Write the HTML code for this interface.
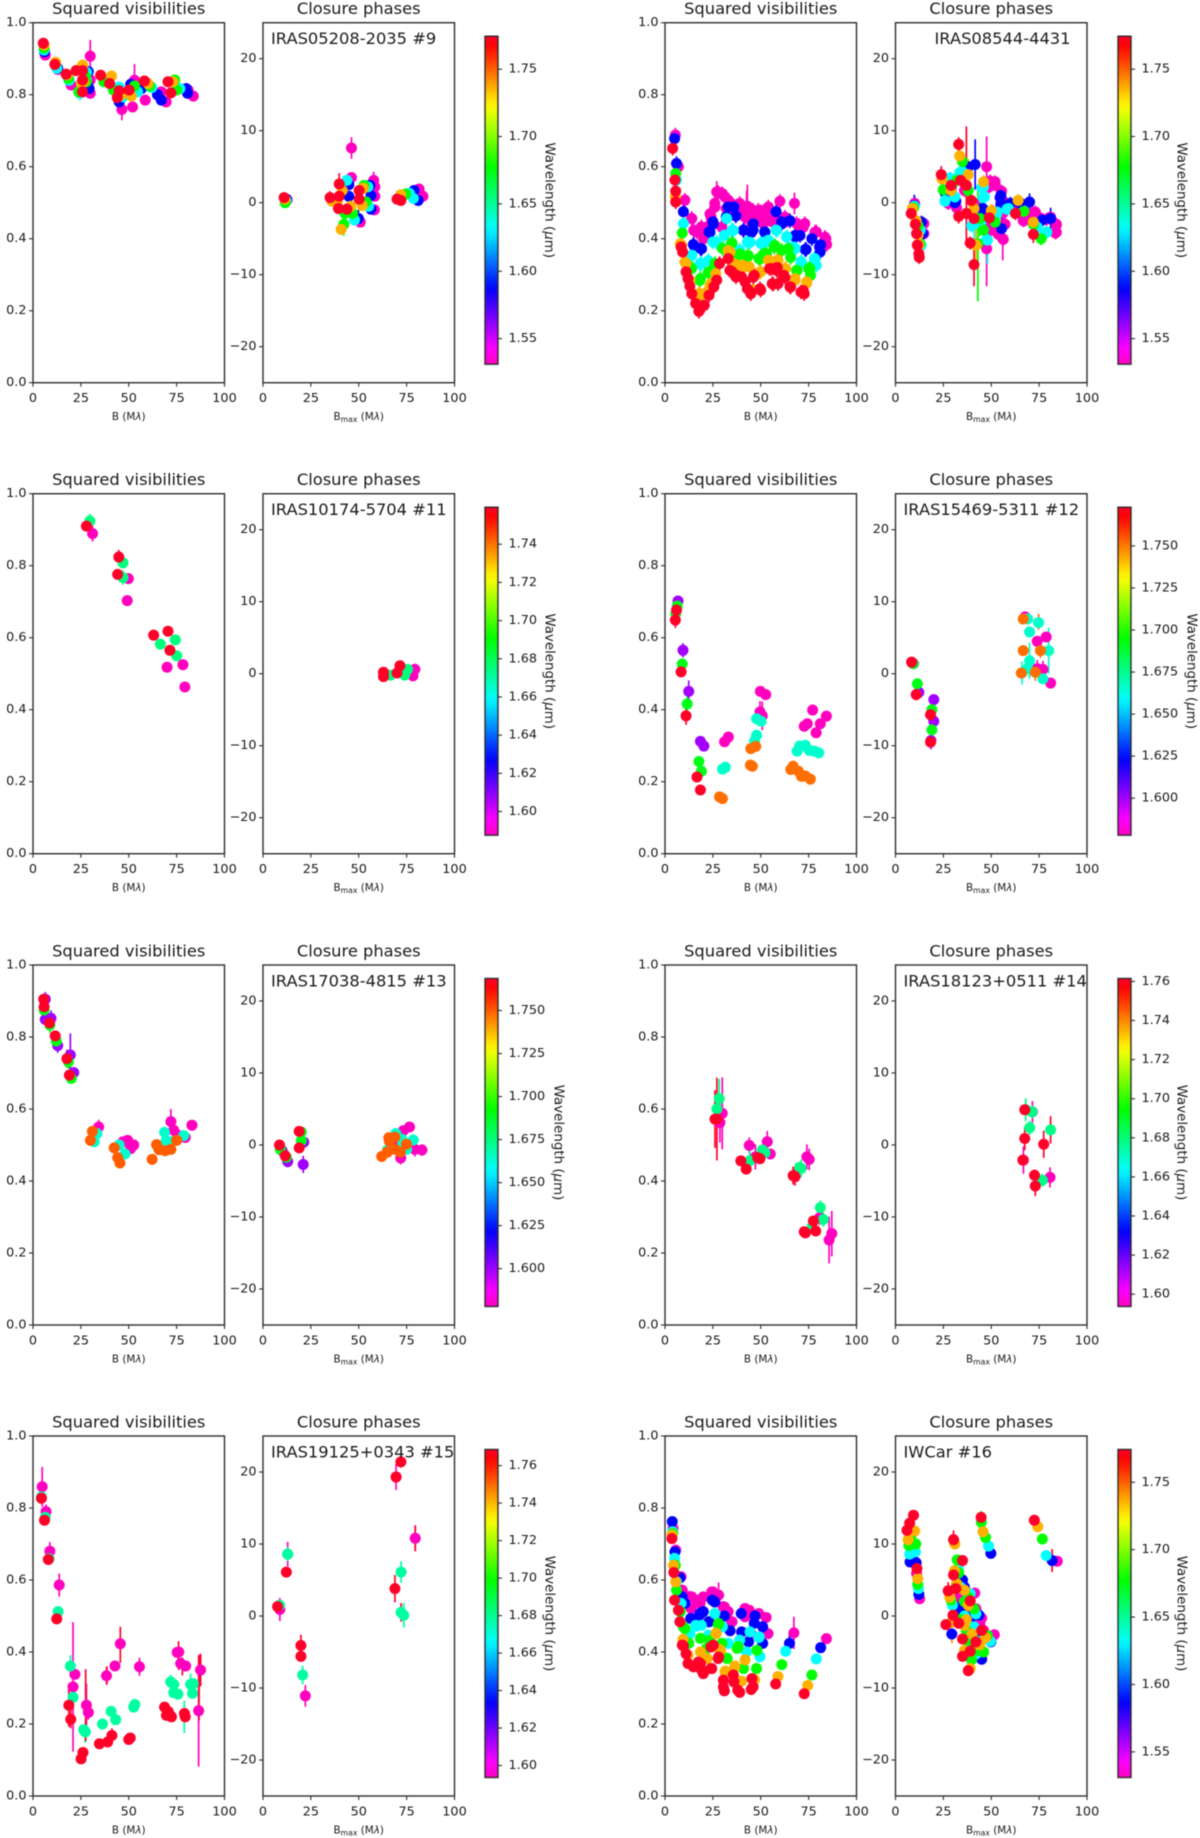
<!DOCTYPE html>
<html lang="en">
<head>
<meta charset="utf-8">
<title>Squared visibilities and closure phases</title>
<style>
html,body{margin:0;padding:0;background:#fff;}
#fig{display:block;width:1200px;height:1838px;filter:blur(.55px);}
text{font-family:"DejaVu Sans","Liberation Sans",sans-serif;fill:#1a1a1a;}
</style>
</head>
<body>
<svg id="fig" xmlns="http://www.w3.org/2000/svg" width="1200" height="1838" viewBox="0 0 1200 1838"></svg>
<script>
/* ---------- tick labels ---------- */
const xTicks=[0,25,50,75,100];
const v2Ticks=[0,0.2,0.4,0.6,0.8,1];
const cpTicks=[-20,-10,0,10,20];
const cbT5=[1.55,1.60,1.65,1.70,1.75];
const cbT2=[1.60,1.62,1.64,1.66,1.68,1.70,1.72,1.74];
const cbT25=[1.600,1.625,1.650,1.675,1.700,1.725,1.750];
const cbT2b=[1.60,1.62,1.64,1.66,1.68,1.70,1.72,1.74,1.76];

/* ---------- channel wavelengths (um) ---------- */
const wlDense=[1.531,1.587,1.632,1.677,1.736,1.7745];
const wl11=[1.5876,1.675,1.7594];
const wl12=[1.60,1.692,1.773,1.578,1.666,1.7516];
const wl13=[1.60,1.69,1.7686,1.578,1.664,1.75];
const wl14=[1.5937,1.678,1.7615];
const wl15=[1.5936,1.678,1.7686];

/* Points are [B, value, err]; a fourth element of 0 marks a point whose marker is hidden and only its error bar shows. */

/* ---------- IRAS05208-2035 #9 ---------- */
const v9m=[[6.4,.91],[12.9,.87],[19.9,.827],[29.9,.907,.045],[29.9,.841],[29.9,.804],[46.4,.759,.03],[52,.766],[53,.84,.045],[58.6,.785],[69.5,.78],[67,.808],[81,.813],[83.7,.796]];
const v9b=[[6,.919],[12.9,.873],[18.9,.84],[28.9,.864],[28.5,.827],[29.3,.817],[45,.78],[51,.829],[52,.82],[56.6,.817],[65,.8],[67,.785],[80,.817],[80.7,.804]];
const v9c=[[5.8,.924],[12.4,.873],[18.9,.84],[28,.862],[24.5,.804,.02],[27.9,.841],[45,.821],[47,.794],[54.6,.808],[62,.82],[76.7,.817]];
const v9g=[[5.8,.93],[11.8,.887],[18.5,.845],[23.9,.808],[27.3,.85],[27.9,.836],[37,.836],[42,.813],[53,.824],[61,.824],[74,.841],[75,.813]];
const v9o=[[5.8,.938],[11.8,.89],[17.9,.855],[25.9,.882],[26.5,.836],[25.2,.832],[41,.852],[46,.799],[51.4,.796],[60,.831],[73,.836]];
const v9r=[[5.4,.943],[11.4,.884],[17.3,.857],[22.5,.867],[25.9,.867],[25.9,.841],[25.9,.808],[35.3,.854],[40,.831],[44,.792],[45,.811],[50.2,.813],[58.2,.838],[70.5,.836],[72,.805]];
const c9m=[[12.6,.4],[46.2,7.6,1.5],[46.2,3.5],[50.8,-2.7],[57.8,3.1,1.2],[58.4,2.2],[58.4,.9],[58.2,-1],[81.5,1.9],[83.5,.9]];
const c9b=[[12.2,.5],[44.8,2.5],[44.8,.9],[49.8,-2.2,1.2],[55.8,2.4],[56.4,1],[56.4,-.9],[78.9,1.7],[81,.3]];
const c9c=[[12,.3],[43.8,3.1],[47.8,-2.4],[54.8,2.2],[55.2,-.5],[76.5,1.3],[78.5,.6]];
const c9g=[[11.6,0],[42.2,-3,1.6],[42.8,-1.5],[52.8,2.4],[53.8,.1],[46.8,-1.5],[74.5,1.2]];
const c9o=[[11.4,.5],[40.8,-3.7],[41.4,1.7],[38.8,.1],[45.8,-.5],[51.8,-.4],[52.4,2],[36,.2],[71.9,1.1]];
const c9r=[[11,.7],[35,.7,.9],[39.8,2.6,1.5],[39.8,.9],[39.4,-.8],[43.8,-.9],[50.2,1.7],[50.2,.5],[70,.5],[72,.3]];

/* ---------- IRAS08544-4431 ---------- */
const v8m=[[5.4,.688],[7,.6],[10.4,.507],[14,.456],[15,.423],[20,.4],[24,.46],[27,.53,.03],[30,.525],[33,.507],[39,.498],[35,.488],[42,.47],[43,.49,.06],[46,.479],[50,.475],[54,.488],[60,.504],[52,.46],[67.6,.498,.03],[64,.451],[73,.442],[79,.419],[84,.4],[83,.382],[70,.437],[32,.484],[37,.47],[43,.46],[48,.451],[56,.447],[26,.498],[22,.433],[19,.433],[23.5,.469],[26.1,.488],[27.8,.529],[31.3,.516],[34.8,.497],[39.1,.488],[41.8,.46],[45.2,.469],[48.7,.479],[53,.483],[57.4,.469],[62.6,.46],[68.7,.442],[72.2,.432],[78.3,.418],[83.5,.404],[84.4,.384],[13.9,.456],[19.1,.428],[16.5,.419],[29.6,.432],[36.5,.469],[51.3,.442],[46.1,.442],[42.6,.488,.045]];
const v8b=[[5,.678],[6,.609],[9.6,.475],[15,.382],[18.5,.373],[23,.419],[25,.447],[32,.461],[36,.488],[41,.424],[46,.424],[52,.419],[58,.475],[61,.447],[68,.405],[73.7,.37],[76.7,.4],[80.7,.377],[81,.363],[14.8,.384],[19.1,.372],[23.5,.418],[25.2,.441],[33,.488],[37,.463],[40.9,.423],[46.1,.441],[45.2,.418],[52.2,.418],[60.9,.441],[65.3,.45],[67.9,.409],[70.5,.409],[73.2,.37],[81.3,.383]];
const v8c=[[6,.563],[9.6,.442],[14,.354],[19,.331],[25,.391],[31,.41],[35,.424],[39,.368],[43,.391],[50,.387],[54,.396],[58,.424],[63.6,.405],[68,.373],[71,.336],[78,.345],[79,.326],[13.9,.353],[18.2,.33],[22.6,.339],[26.9,.39],[32.2,.456],[35.7,.423],[44.4,.39],[51.3,.39],[58.3,.423],[63.5,.405],[67,.377],[71.3,.335],[78.3,.344]];
const v8g=[[5.6,.581],[9,.416],[13,.322],[18.5,.289],[23,.308],[26,.331],[30,.373],[35,.388],[38,.354],[43,.349],[49,.345],[52,.359],[57,.377],[61,.368],[65.6,.348],[69,.312],[75,.317],[76,.298],[13.9,.317],[18.2,.284],[22.6,.307],[26.1,.33],[34.8,.388],[39.1,.358],[43.5,.353],[49.6,.344],[53,.358],[57.4,.381],[64.4,.372],[68.7,.312],[75.7,.317]];
const v8o=[[5.4,.516],[8,.386],[11,.331],[13,.285],[17.7,.247],[18.5,.224],[22,.252],[24,.275],[26.5,.303],[34,.363],[36,.331],[40.5,.326],[44,.322],[50,.308],[54,.34],[59,.34],[63,.317],[68,.285],[74,.277],[46,.257],[8.7,.381],[10.4,.335],[12.6,.284],[18.2,.247],[23.5,.27],[33,.367],[38.3,.326],[40.9,.321],[49.6,.307],[58.3,.339],[62.6,.316],[67.9,.289],[74,.28]];
const v8r=[[4,.651],[5.2,.563],[5.6,.532],[5.6,.502],[8.4,.377],[9.2,.363],[11,.308],[12,.289],[13,.268],[14,.247],[16,.22],[17.7,.198],[20.5,.215],[23,.243],[25.5,.266],[27,.285],[28.5,.331],[33,.345],[35,.308],[37,.294],[40,.294],[41.8,.28],[43,.261],[44.8,.247],[46.6,.298],[50,.257],[54.6,.317],[56,.275],[58.6,.32],[59,.275],[62,.298],[65.6,.266],[71,.252],[72.7,.247],[33.9,.312],[37.4,.298],[46.1,.293],[44.4,.252],[49.6,.261],[55.7,.317],[58.3,.312],[56.5,.274],[62.6,.293],[65.3,.266],[72.2,.256]];
const c8m=[[10,-.1],[14.8,-2.9],[14.8,-4.3],[27.5,-.1],[36,1.7],[41,-.1],[47.6,5,4.2],[47.6,-6.4,5.2],[49,2.2],[52,2.9],[53,-3.4],[56,-5,3],[56,-1.5],[50,-2.9],[67.7,-2.4],[73,-1.3],[81,-2],[84,-3],[84,-4.1],[46,-1.5],[49.4,3],[52,2.5],[55.4,1.6],[56.3,.2],[57.2,-3],[53.7,-4.4],[49.4,-3.9],[56.3,-5.1],[50.9,-1.2],[47.6,-2.5],[31.9,-.7],[62.4,-.9],[66.7,-2.5],[71.8,-1.4],[75.4,-2.1],[78.9,-2.3],[84,-3.1],[83.5,-4.2]];
const c8b=[[9.8,-.4,1.5],[13.6,-2.7],[14.2,-4.3],[27,1.5],[31.5,.2,2],[38,5],[41.6,5.3,3.5],[45.6,-.8,2.5],[55,1],[55,-.2],[55.4,-3.6,1.5],[60,-.1],[65,0],[70,.1,1.2],[76.7,-2.4],[81,-2.2,1.5],[64.7,0],[31,0],[25.8,1.4],[45,-.9],[54.6,.7]];
const c8c=[[9.8,-.5],[13,-3.8],[13.4,-5.9],[25.9,.3],[29,3.3],[31,.8],[35,4.3],[41,-3,2],[46,2.2],[48,-5.2,3.3],[53,-1.3],[59,-.8],[74,-3.4],[79,-4.1],[46.4,.8],[45,2.1],[45.8,.7],[39.8,-3.2],[45,-2.5],[47.6,-5.1],[52.8,-1.6],[28.4,3.4],[25.8,.2],[33.6,4.2],[58.2,-.9],[73.7,-3.5],[78,-4.2]];
const c8g=[[9.4,-.7],[11.8,-3.2],[12.8,-5.7],[24.9,1.8],[35,5.7],[38,1.7],[43,-5.7,8],[44,-2.2,2.5],[46,-3.8],[52,-2.7],[67,-1.2],[72,-3],[76,-5],[32,3.1]];
const c8o=[[8.8,-.8],[10.8,-2.5],[11.8,-4.5],[12.2,-5.9],[24.3,3.3],[33.5,6.5],[38,3.9,2.2],[41,-.8],[42,-5.9,2.5],[50,-1.1],[64,.3],[72,-2.7],[46,2.9],[29,1.7]];
const c8r=[[8.2,-1.5],[10.4,-3],[11,-4.3],[11.4,-5.9],[12.2,-7.1],[12.4,-7.6],[23.9,3.9,1.2],[29,2.4],[33,8.1,1],[34,3.1],[33,-1.9,1],[37,2.4,8.2],[37,-1.5],[39.6,.3],[41,-8.6,3],[41,-2.2],[39,-5.6],[49,-2.1],[62.6,-1.5],[72,-4.4,1.2]];

/* ---------- IRAS10174-5704 #11 ---------- */
const v11m=[[31.1,.889,.022],[49.8,.764,.015],[49.2,.703,.015],[70,.518,.006],[78.3,.525,.006],[79.3,.463,.006]];
const v11g=[[29.7,.924,.02],[47,.808,.012],[47,.767,.02],[66.5,.582,.006],[74.3,.594,.006],[75,.55,.006]];
const v11r=[[27.9,.91,.012],[44.8,.824,.02],[44.2,.776,.012],[63,.607,.006],[70.5,.618,.006],[71.5,.565,.006]];
const c11m=[[78.3,-.3,.4],[79.3,.6,.8]];
const c11g=[[66.5,-.2,.4],[74,-.2,.4],[75.5,.6,.4]];
const c11r=[[62.9,.2,.4],[62.9,-.4,.4],[70,.1,.4],[71.5,1.1,.4]];

/* ---------- IRAS15469-5311 #12 ---------- */
const v12p=[[6.8,.702,.012],[9.4,.565,.02],[12.4,.451,.03],[18.5,.312,.01],[20.3,.299,.01]];
const v12g=[[5.6,.667,.01],[6.4,.688,.012],[9,.527,.01],[11.6,.416,.03],[17.7,.256,.006],[19,.229,.006]];
const v12r=[[5.4,.649,.022],[6,.677,.01],[8.4,.505,.01],[11,.383,.025],[16.7,.213,.006],[18.5,.177,.006]];
const v12m=[[49.8,.451,.006],[52.6,.442,.006],[49.6,.394,.03],[50.8,.383,.04],[31.1,.311,.006],[33.1,.324,.006],[72.7,.354,.006],[74.3,.361,.006],[77.1,.399,.006],[78.9,.336,.006],[81.1,.361,.006],[84.3,.382,.012]];
const v12c=[[47.8,.375,.006],[50.2,.368,.006],[46.8,.313,.006],[47.8,.329,.015],[30,.235,.006],[31.5,.24,.006],[69,.285,.006],[70.3,.299,.006],[73.3,.301,.006],[75.3,.287,.006],[78,.285,.006],[80.3,.28,.014]];
const v12o=[[44.8,.292,.006],[47.4,.298,.006],[44.6,.246,.006],[45.6,.243,.006],[28.5,.158,.006],[30,.153,.006],[65.7,.234,.006],[66.9,.243,.006],[69.7,.229,.006],[71.3,.215,.006],[73.3,.216,.006],[75.9,.207,.006]];
const c12p=[[9.4,1.4,.3],[12.2,-2.6,.4],[20,-3.6,.4],[20,-6.6,.4],[18.5,-9.3,1.2]];
const c12g=[[9.2,1.4,.3],[11.4,-1.4,.4],[19,-5,.4],[19,-7.8,.4]];
const c12r=[[8.4,1.6,.3],[10.8,-2.9,.8],[18.3,-5.7,.4],[18.3,-9.5,.6]];
const c12m=[[67.7,7.9,.5],[74,4.5,.6],[78.7,5.1,.5],[77,.6,1.2],[74,.7,1.2],[81,-1.3,.4]];
const c12c=[[69,7.6,.4],[70,5.8,.4],[70,1.8,2.5],[69,.7,.4],[74.7,7.1,.4],[77,-.7,.4],[80,3.2,3.2],[66,.1,1.6]];
const c12o=[[66.7,7.6,.4],[66.7,3.2,.4],[65.7,.1,.4],[73,.2,1.2],[75.7,3.2,1],[74.7,7.2,1.1,0]];

/* ---------- IRAS17038-4815 #13 ---------- */
const v13p=[[6.4,.905,.02],[6.4,.849,.01],[9.4,.852,.022],[12.9,.776,.02],[19.5,.75,.06],[21.3,.701,.015]];
const v13g=[[5.8,.875,.012],[8.8,.833,.022],[12.2,.789,.012],[18.5,.731,.02],[20,.685,.015]];
const v13r=[[5.6,.905,.015],[5.8,.884,.008],[8.6,.839,.008],[11.6,.803,.01],[17.7,.74,.025],[19,.694,.01]];
const v13m=[[34.3,.55,.02],[33.3,.532,.01],[47,.509,.006],[49.4,.513,.006],[51,.49,.006],[52.6,.5,.006],[69,.504,.006],[72,.565,.035],[73.5,.541,.012],[75.7,.527,.006],[79.5,.521,.006],[83,.555,.015]];
const v13c=[[32,.509,.006],[33.3,.532,.006],[45,.5,.006],[48,.475,.006],[68.7,.535,.006],[65.5,.49,.006],[69.5,.511,.006],[72,.509,.006],[78.7,.526,.006]];
const v13o=[[30,.513,.006],[31,.538,.006],[42.4,.492,.006],[44.2,.465,.006],[45.4,.45,.006],[62.2,.46,.006],[64.5,.501,.006],[65.9,.487,.006],[69,.484,.006],[72,.488,.006],[75,.513,.006]];
const c13p=[[10,-.8,1],[12.9,-2.3,.8],[21.3,.4,.4],[21,-2.7,1.2]];
const c13g=[[9,-.6,.5],[12.2,-1.7,.4],[20,1.8,.4],[20,.6,.4]];
const c13r=[[8.6,0,.5],[11.6,-1.5,.4],[18.9,1.9,.3],[18.9,-.4,.3]];
const c13m=[[71.9,-1.8,.9],[73.3,2,.4],[76.5,2.5,.4],[79.3,-.6,1],[83,-.7,.8],[68.9,.1,.4]];
const c13c=[[65,-.7,.4],[69.3,1.6,.4],[72.5,.8,.4],[73,.4,.4],[75,-.6,.4],[78.5,.7,.8]];
const c13o=[[62,-1.6,.4],[64.8,-1,.4],[65.7,1,.4],[66,.5,.4],[68.9,-.6,.4],[68.9,1.1,.4],[71.7,-1,.4],[74.9,.1,.4]];

/* ---------- IRAS18123+0511 #14 ---------- */
const v14m=[[28.7,.562,.055],[29.9,.588,.1],[44,.499,.022],[47.2,.467,.035],[53.4,.509,.03],[55,.475,.012],[74.1,.467,.035],[75.3,.46,.03],[80.7,.298,.02],[85.7,.236,.065],[87.1,.254,.063]];
const v14g=[[27.1,.6,.045],[28.3,.629,.055],[44.2,.456,.03],[50.8,.486,.012],[52.2,.478,.012],[70.3,.438,.012],[71.1,.435,.025],[76.9,.274,.015],[81.1,.326,.02],[82.7,.293,.02]];
const v14r=[[26.1,.572,.08],[27.1,.572,.115],[39.6,.456,.012],[42.4,.433,.012],[48.4,.465,.012],[49.6,.462,.012],[66.9,.415,.025],[67.9,.412,.025],[72.7,.259,.012],[73.3,.256,.012],[77.5,.289,.012],[78.7,.261,.012]];
const c14m=[[80.7,-4.5,1.4],[71.5,4.6,1.5],[66.8,-2.1,1.9]];
const c14g=[[68,4.9,1.6],[70.1,2.4,1],[71.3,4.6,.9],[76.7,-4.9,.9],[81,2.1,.9]];
const c14r=[[66.5,-2.1,.6],[67.5,4.9,.6],[67.5,.9,1.6],[72.6,-4.2,.8],[73,-5.7,1.4],[77.4,.1,1.9],[81,2.1,1.9,0]];

/* ---------- IRAS19125+0343 #15 ---------- */
const v15m=[[4.8,.859,.055],[6.8,.79,.02],[8.8,.68,.025],[13.7,.586,.032],[20.9,.303,.18],[21.9,.338,.015],[27.9,.252,.06],[28.9,.232,.02],[38.4,.334,.025],[42.8,.361,.012],[45.6,.423,.012],[55.6,.359,.025],[75.3,.399,.012],[76.1,.4,.012],[77.1,.368,.012],[79.7,.361,.012],[86.5,.237,.155],[87.5,.35,.045]];
const v15g=[[4.4,.831,.02],[6.4,.774,.01],[8.4,.659,.01],[13.1,.512,.015],[19.5,.361,.03],[20.9,.274,.015],[26.5,.184,.015],[27.3,.178,.03],[36.3,.2,.006],[40.8,.235,.012],[43.2,.212,.012],[52.6,.247,.006],[53.2,.254,.006],[71.9,.317,.02],[73.5,.31,.012],[73.5,.287,.012],[75.7,.283,.006],[82.3,.31,.03],[83.3,.285,.012],[83.7,.312,.012],[79,.22,.045,0]];
const v15r=[[4.4,.827,.015],[6,.766,.015],[8,.657,.015],[12.4,.492,.012],[18.7,.252,.06],[19.7,.213,.025],[25.1,.103,.006],[26.1,.121,.006],[34.7,.145,.006],[39,.15,.006],[41.2,.168,.02],[50,.157,.006],[50.8,.161,.006],[68.7,.247,.006],[69.7,.224,.006],[70.7,.234,.006],[72.3,.22,.006],[79.1,.229,.012],[79.5,.22,.012],[27.5,.252,.1,0],[76,.39,.04,0],[78,.36,.025,0],[86.7,.3,.09,0],[45.6,.42,.05,0],[38.6,.335,.025,0],[87.5,.35,.045,0]];
const c15m=[[8.8,.9,1.6],[22.1,-11.1,1.5],[79.5,10.8,1.8],[12.9,8.6,1.7],[69.5,19.3,1.8]];
const c15g=[[8.6,1.5,.6],[12.9,8.6,1],[20.7,-8.2,1.3],[72.1,6.1,1.5],[72.1,.5,.6],[73.5,.1,1.7]];
const c15r=[[7.6,1.3,.5],[12.2,6.1,.6],[19.8,-4.1,1.5],[19.8,-5.6,.6],[68.9,3.8,1.9],[69.5,19.3,.5],[72,21.4,.8],[72.1,.5,1.3,0],[79.5,10.8,1.8,0]];

/* ---------- IWCar #16 ---------- */
const v16m=[[4.2,.743],[5.6,.683],[8.4,.609],[9,.572],[11,.553],[13.7,.521],[14,.553],[17,.539],[20,.553],[25,.567],[28,.558,.035],[31,.525],[35,.484],[41.8,.521],[44,.516],[41.8,.498],[45,.451],[49,.507],[52.8,.496],[53.8,.451],[67.3,.453,.045],[84.3,.437],[13,.554],[16.5,.544],[24.4,.567],[26.9,.559],[30.4,.526],[33,.512],[34.8,.484],[46.9,.503],[44.7,.452],[13.6,.522],[18.3,.535]];
const v16b=[[3.8,.762],[5.2,.678],[7.8,.606],[9,.553],[10.4,.535],[13.4,.493],[18,.502],[20,.512],[23,.484],[24.7,.544],[26,.539],[31,.5],[34,.459],[39.8,.507],[40,.456],[43.6,.428],[47,.5],[51,.47],[51,.424],[65,.424,.03],[81.3,.412],[18.3,.507],[22.9,.484],[46.6,.48]];
const v16c=[[4,.734],[5,.66],[6,.595],[8.4,.535],[13,.451],[16,.474],[19,.474],[22.7,.444],[26,.507],[30,.47],[33,.424],[39,.433],[42.6,.4],[49,.44],[49.6,.387],[63,.402],[79,.381],[16.5,.472],[22.6,.447],[29.6,.47],[33,.424],[44.4,.456],[49.2,.442]];
const v16g=[[4,.729],[5.4,.641],[6,.572],[8,.512],[10.4,.465],[12.4,.424],[18.5,.438],[21.7,.41],[28,.479],[29.7,.424],[32.5,.382],[37.7,.41],[41,.354],[48,.405],[47.8,.354],[61,.365],[76.7,.336],[12.2,.425],[23.5,.433],[27.8,.476],[32.2,.383],[38.2,.415],[9.6,.47]];
const v16o=[[3.6,.725],[4.4,.641],[5.6,.595],[9.4,.435],[12,.391],[18.5,.4],[22,.382],[26.7,.451],[29,.405],[31.5,.347],[36.5,.359],[40,.319],[41.8,.378],[46.8,.323],[59,.332],[74.5,.307],[20.9,.382],[28.4,.407],[26.6,.452],[31.3,.345],[36.5,.361]];
const v16r=[[3.6,.715],[4.6,.621],[5,.544],[7,.516],[7.8,.484],[9,.419],[12,.368],[15,.359],[18.5,.368],[20,.34],[24,.354],[30.5,.322],[30.5,.303],[31,.292],[35.7,.336],[36,.317],[38,.294],[39,.288],[45,.296],[46,.303],[45.4,.326],[57.8,.311],[72.7,.284],[24,.414],[28,.386],[9.6,.417],[11,.395],[14.8,.359],[17.4,.372],[19.1,.35],[24.4,.354],[27.8,.382],[25.2,.419],[20,.345]];
const c16m=[[9,8.2],[11,5.9],[12.6,2.4],[32.8,2.4],[35,1.7],[41.4,3.2],[44,-1.1],[43,-3.6],[45,-5.4],[45,-.3],[41,-1.8],[51.6,-2.6],[84.5,7.6],[41,-4],[38,.5],[46,-2],[43,-1],[42,1]];
const c16b=[[7.6,7.5],[8.4,9],[10.8,7.4],[12.2,3],[35,5,1.2],[29.4,-2.5,1.2],[34,1.2],[39.6,-.1],[43,-4.5,1.9],[43.6,.1],[49.8,8.7],[49.8,-3.6],[81.8,7.7],[36,4],[33,.5],[40,-3],[44,-3.2],[45,-6]];
const c16c=[[7.4,8.6],[8.4,10.1],[10.4,8.9],[12,3.8],[32.8,6.6],[29.7,1.5],[32.4,-.6],[39,3.1],[42,-5.3],[42,.3],[48.6,9.7],[49.6,-3.5],[78.7,8.4],[34,4],[36,0],[41,-1.5],[43,-3.5]];
const c16g=[[7,9.8],[8.2,11.2],[10.6,10],[11.6,4.4],[32.2,7.8],[31.8,4.4],[29,2.2],[37,-2],[37.5,-3.4],[39.7,-6.1],[41,1],[47,10.9],[48,-2.7],[76.7,10.7],[38,2.6],[44.8,13,1.6],[33,6],[36,2],[34,-.5],[42,-4.8],[46,-5]];
const c16o=[[6.6,10.6],[10,11.8],[11.6,5.2],[31,10],[30.8,6.3],[28.3,2.6],[36,3.6],[36,-1.3],[36,-4.8],[39,-7.3],[45.7,11.7],[47,-3],[74.3,12.4],[38,1.5],[29.5,-.8,3],[32,4.5],[37,-.5],[40,-2.5],[44,-4]];
const c16r=[[6,11.9],[7.4,12.9],[9.4,14],[11.2,6.6],[30.3,10.6,1.3],[30.3,5.7],[27.5,3.5,1.2],[26.3,-1.2],[30,.1],[35,7.7],[35,-3.2],[35,-5.6],[39,2.1],[39,-4.9],[38,-7.6],[44.7,13.7],[45,-2],[72.5,13.3],[81.8,7.7,1.6,0],[31.5,3.8],[33,-1],[42,-3.6]];

/* ---------- rendering ---------- */
const SVGNS='http://www.w3.org/2000/svg';
const fig=document.getElementById('fig');
const defs=document.createElementNS(SVGNS,'defs');
fig.appendChild(defs);
const TITLE_SIZE=16.3,TICK_SIZE=12.8,XLABEL_SIZE=10.4,SUB_SIZE=7.7,CB_LABEL_SIZE=13.4,AXIS='#2e2e2e';

function mk(tag,parent,attrs){
  const el=document.createElementNS(SVGNS,tag);
  for(const k in attrs){el.setAttribute(k,attrs[k]);}
  parent.appendChild(el);
  return el;
}
function named(el,name){
  
  
  return el;
}
function cmap(x){
  const xs=[0,.03,.215,.4,.586,.77,.954,1];
  const rs=[1,1,1,0,0,0,1,1];
  const gs=[0,0,1,1,1,0,0,0];
  const bs=[.16,0,0,0,1,1,1,.75];
  x=Math.max(0,Math.min(1,x));
  let i=0;
  while(i<xs.length-2&&x>xs[i+1]){i++;}
  const f=(x-xs[i])/(xs[i+1]-xs[i]);
  const c=a=>Math.round(255*(a[i]+(a[i+1]-a[i])*f));
  return 'rgb('+c(rs)+','+c(gs)+','+c(bs)+')';
}
function txt(parent,x,y,s,size,anchor,name,extra){
  const t=mk('text',parent,Object.assign({x:x,y:y,'font-size':size,'text-anchor':anchor||'start','dominant-baseline':'central'},extra||{}));
  t.textContent=s;
  named(t,name);
  return t;
}
function frame(g,x0,y0,w,h){
  const r=mk('rect',g,{x:x0,y:y0,width:w,height:h,fill:'none',stroke:AXIS,'stroke-width':1.4});
  named(r,'axes-frame');
}
function drawPoints(g,series,wls,color,sx,sy,defErr,prefix){
  /* error bars first so every marker sits above them */
  series.forEach((data,i)=>{
    const col=color(wls[i]);
    const sg=mk('g',g,{});
    named(sg,prefix+'-error-bars-'+wls[i]);
    data.forEach(p=>{
      const e=p[2]===undefined?defErr:p[2];
      const bar=mk('line',sg,{x1:sx(p[0]),x2:sx(p[0]),y1:sy(p[1]-e),y2:sy(p[1]+e),stroke:col,'stroke-width':1.7});
      named(bar,'error-bar');
    });
  });
  series.forEach((data,i)=>{
    const col=color(wls[i]);
    const sg=mk('g',g,{});
    named(sg,prefix+'-series-'+wls[i]);
    data.forEach(p=>{
      if(p[3]===0){return;}
      const dot=mk('circle',sg,{cx:sx(p[0]),cy:sy(p[1]),r:5.5,fill:col});
      named(dot,'data-point');
    });
  });
}
function drawStar(o){
  const top=o.top,bot=top+360,W=191.5;
  const star=mk('g',fig,{});
  named(star,'star-panel-'+o.id);
  const color=wl=>cmap(1-(wl-o.wlMin)/(o.wlMax-o.wlMin));

  /* V2 panel */
  const gv=mk('g',star,{});
  named(gv,'squared-visibilities-axes');
  const xv=o.left;
  const sxv=v=>xv+v/100*W;
  const syv=v=>bot-v*360;
  drawPoints(gv,o.v,o.wl,color,sxv,syv,o.vErr,'v2');
  frame(gv,xv,top,W,360);
  xTicks.forEach(t=>{
    named(mk('line',gv,{x1:sxv(t),x2:sxv(t),y1:bot,y2:bot+4,stroke:AXIS,'stroke-width':1.1}),'x-tick');
    txt(gv,sxv(t),bot+16,String(t),TICK_SIZE,'middle','x-tick-label');
  });
  v2Ticks.forEach(t=>{
    named(mk('line',gv,{x1:xv-4,x2:xv,y1:syv(t),y2:syv(t),stroke:AXIS,'stroke-width':1.1}),'y-tick');
    txt(gv,xv-6.5,syv(t),t.toFixed(1),TICK_SIZE,'end','y-tick-label');
  });
  txt(gv,xv+W/2,top-14,'Squared visibilities',TITLE_SIZE,'middle','v2-title');
  const xl=txt(gv,xv+W/2,bot+34.5,'B (M',XLABEL_SIZE,'middle','v2-x-axis-title');
  const lam=mk('tspan',xl,{'font-style':'italic'});
  lam.textContent='\u03bb';
  const cl=mk('tspan',xl,{});
  cl.textContent=')';

  /* closure phase panel */
  const gc=mk('g',star,{});
  named(gc,'closure-phases-axes');
  const xc=o.left+o.gap;
  const sxc=v=>xc+v/100*W;
  const syc=v=>top+(25-v)/50*360;
  drawPoints(gc,o.c,o.wl,color,sxc,syc,o.cErr,'cp');
  frame(gc,xc,top,W,360);
  xTicks.forEach(t=>{
    named(mk('line',gc,{x1:sxc(t),x2:sxc(t),y1:bot,y2:bot+4,stroke:AXIS,'stroke-width':1.1}),'x-tick');
    txt(gc,sxc(t),bot+16,String(t),TICK_SIZE,'middle','x-tick-label');
  });
  cpTicks.forEach(t=>{
    named(mk('line',gc,{x1:xc-4,x2:xc,y1:syc(t),y2:syc(t),stroke:AXIS,'stroke-width':1.1}),'y-tick');
    txt(gc,xc-6.5,syc(t),t<0?'\u2212'+Math.abs(t):String(t),TICK_SIZE,'end','y-tick-label');
  });
  txt(gc,xc+W/2,top-14,'Closure phases',TITLE_SIZE,'middle','cp-title');
  const xl2=txt(gc,xc+W/2,bot+34.5,'B',XLABEL_SIZE,'middle','cp-x-axis-title');
  const sub=mk('tspan',xl2,{dy:2,'font-size':SUB_SIZE});
  sub.textContent='max';
  const rest=mk('tspan',xl2,{dy:-2});
  rest.textContent=' (M';
  const lam2=mk('tspan',xl2,{'font-style':'italic'});
  lam2.textContent='\u03bb';
  const cl2=mk('tspan',xl2,{});
  cl2.textContent=')';
  txt(gc,xc+o.nameDx,top+16,o.name,TITLE_SIZE,'start','star-name-label');

  /* colorbar */
  const cx=o.left+o.cbDx,cw=13,ct=top+13.5,cb=bot-18.5;
  const gradId='grad-'+o.id;
  const grad=mk('linearGradient',defs,{id:gradId,x1:0,y1:1,x2:0,y2:0});
  for(let i=0;i<=40;i++){
    mk('stop',grad,{offset:i/40,'stop-color':cmap(1-i/40)});
  }
  const gb=mk('g',star,{});
  named(gb,'wavelength-colorbar');
  named(mk('rect',gb,{x:cx,y:ct,width:cw,height:cb-ct,fill:'url(#'+gradId+')',stroke:AXIS,'stroke-width':1.4}),'colorbar-gradient');
  const scb=v=>cb-(v-o.wlMin)/(o.wlMax-o.wlMin)*(cb-ct);
  o.cbTicks.forEach(t=>{
    named(mk('line',gb,{x1:cx+cw,x2:cx+cw+4,y1:scb(t),y2:scb(t),stroke:AXIS,'stroke-width':1.1}),'colorbar-tick');
    txt(gb,cx+cw+10.5,scb(t),t.toFixed(o.cbDec),TICK_SIZE,'start','colorbar-tick-label');
  });
  const cy=(ct+cb)/2;
  const wl=txt(gb,o.wlLabelX,cy,'Wavelength (',CB_LABEL_SIZE,'middle','colorbar-title',{transform:'rotate(90 '+o.wlLabelX+' '+cy+')'});
  const mu=mk('tspan',wl,{'font-style':'italic'});
  mu.textContent='\u03bc';
  const um=mk('tspan',wl,{});
  um.textContent='m)';
}

drawStar({id:'9',name:'IRAS05208-2035 #9',nameDx:8,left:33,gap:230,cbDx:452,top:22.7,wlLabelX:549,
  wlMin:1.531,wlMax:1.7745,cbTicks:cbT5,cbDec:2,wl:wlDense,vErr:.015,cErr:.6,
  v:[v9m,v9b,v9c,v9g,v9o,v9r],c:[c9m,c9b,c9c,c9g,c9o,c9r]});
drawStar({id:'8544',name:'IRAS08544-4431',nameDx:39,left:665,gap:230.5,cbDx:453,top:22.7,wlLabelX:1181,
  wlMin:1.531,wlMax:1.7745,cbTicks:cbT5,cbDec:2,wl:wlDense,vErr:.02,cErr:.9,
  v:[v8m,v8b,v8c,v8g,v8o,v8r],c:[c8m,c8b,c8c,c8g,c8o,c8r]});
drawStar({id:'11',name:'IRAS10174-5704 #11',nameDx:8,left:33,gap:230,cbDx:452,top:493.7,wlLabelX:549,
  wlMin:1.5876,wlMax:1.7594,cbTicks:cbT2,cbDec:2,wl:wl11,vErr:.01,cErr:.4,
  v:[v11m,v11g,v11r],c:[c11m,c11g,c11r]});
drawStar({id:'12',name:'IRAS15469-5311 #12',nameDx:8,left:665,gap:230.5,cbDx:453,top:493.7,wlLabelX:1191,
  wlMin:1.578,wlMax:1.773,cbTicks:cbT25,cbDec:3,wl:wl12,vErr:.01,cErr:.4,
  v:[v12p,v12g,v12r,v12m,v12c,v12o],c:[c12p,c12g,c12r,c12m,c12c,c12o]});
drawStar({id:'13',name:'IRAS17038-4815 #13',nameDx:8,left:33,gap:230,cbDx:452,top:965,wlLabelX:558,
  wlMin:1.578,wlMax:1.7686,cbTicks:cbT25,cbDec:3,wl:wl13,vErr:.01,cErr:.4,
  v:[v13p,v13g,v13r,v13m,v13c,v13o],c:[c13p,c13g,c13r,c13m,c13c,c13o]});
drawStar({id:'14',name:'IRAS18123+0511 #14',nameDx:8,left:665,gap:230.5,cbDx:453,top:965,wlLabelX:1181,
  wlMin:1.5937,wlMax:1.7615,cbTicks:cbT2b,cbDec:2,wl:wl14,vErr:.012,cErr:.6,
  v:[v14m,v14g,v14r],c:[c14m,c14g,c14r]});
drawStar({id:'15',name:'IRAS19125+0343 #15',nameDx:8,left:33,gap:230,cbDx:452,top:1436,wlLabelX:549,
  wlMin:1.5936,wlMax:1.7686,cbTicks:cbT2b,cbDec:2,wl:wl15,vErr:.012,cErr:.6,
  v:[v15m,v15g,v15r],c:[c15m,c15g,c15r]});
drawStar({id:'16',name:'IWCar #16',nameDx:8,left:665,gap:230.5,cbDx:453,top:1436,wlLabelX:1181,
  wlMin:1.531,wlMax:1.7743,cbTicks:cbT5,cbDec:2,wl:wlDense,vErr:.012,cErr:.6,
  v:[v16m,v16b,v16c,v16g,v16o,v16r],c:[c16m,c16b,c16c,c16g,c16o,c16r]});
</script>
</body>
</html>
